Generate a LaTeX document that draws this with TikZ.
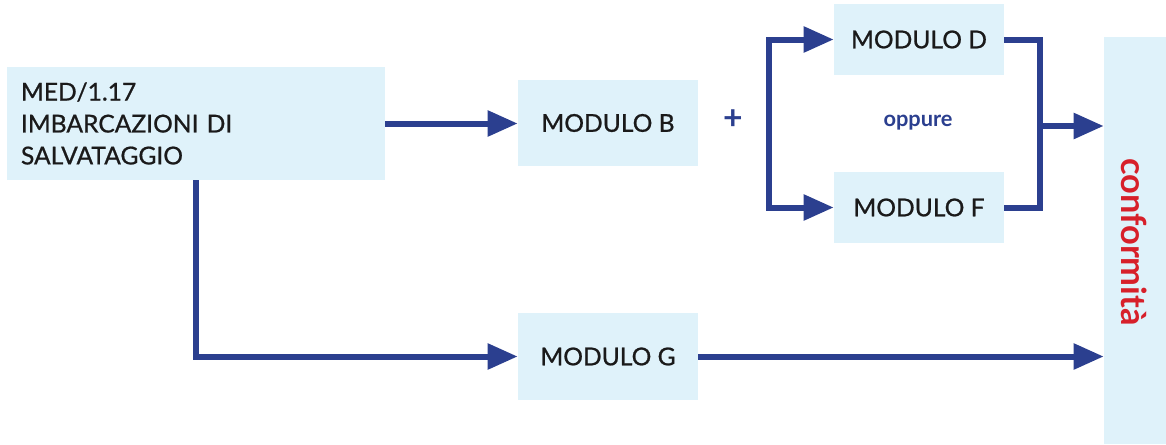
\documentclass[tikz,border=0pt]{standalone}
\usepackage{fontspec}
\setmainfont{Lato}
\newfontfamily\modfont{Lato}[FakeBold=0.8]
\usetikzlibrary{arrows.meta}
\definecolor{boxblue}{HTML}{DFF2FA}
\definecolor{arrowblue}{HTML}{2B3F8F}
\definecolor{confred}{HTML}{D7202A}
\definecolor{textdark}{HTML}{1A1A1A}

\begin{document}
\begin{tikzpicture}[
    modbox/.style={fill=boxblue,text=textdark,font=\boxfontsize,inner sep=0,minimum width=4.5cm,minimum height=2.15cm},
    flow/.style={draw=arrowblue,line width=0.15cm},
    flowarrow/.style={flow,-{Triangle[length=0.75cm,width=0.62cm]}},
    flowsplit/.style={flow,{Triangle[length=0.75cm,width=0.62cm]}-{Triangle[length=0.75cm,width=0.62cm]}}
]
    \providecommand{\boxfontsize}{\modfont\fontsize{17.5}{22.7}\selectfont}
    \providecommand{\conffontsize}{\fontsize{24.5}{27}\selectfont}
    \providecommand{\oppurefontsize}{\fontsize{15.5}{18}\selectfont}
    \providecommand{\plusfontsize}{\fontsize{24}{26}\selectfont}
    \useasboundingbox (0,0) rectangle (29.15,11.1);
    \node[modbox,minimum width=9.45cm,minimum height=2.825cm,text width=8.75cm,align=left] (med) at (4.9,8.0125) {MED/1.17\\IMBARCAZIONI DI\\SALVATAGGIO};
    \node[modbox] (modb) at (15.2,8.025) {MODULO B};
    \node[modbox,minimum width=4.25cm,minimum height=1.775cm] (modd) at (22.975,10.1125) {MODULO D};
    \node[modbox,minimum width=4.25cm,minimum height=1.775cm] (modf) at (22.975,5.9125) {MODULO F};
    \node[modbox,minimum height=2.175cm] (modg) at (15.2,2.1875) {MODULO G};
    \node[fill=boxblue,minimum width=1.55cm,minimum height=10.175cm,inner sep=0] (conf) at (28.375,5.0875) {};
    \node[rotate=-90,text=confred,font=\conffontsize\bfseries] (conftext) at (28.35,5.05) {conformità};
    \node[text=arrowblue,font=\plusfontsize\bfseries] (plus) at (18.325,8.1) {+};
    \node[text=arrowblue,font=\oppurefontsize\bfseries] (oppure) at (22.95,8.025) {oppure};
    % connectors
    \draw[flowarrow] (med.east) -- (med.east -| modb.west);
    \draw[flowarrow] (med.south) |- (modg.west);
    \draw[flowarrow] (modg.east) -- (modg.east -| conf.west);
    \coordinate (split) at (19.225,5.9125);
    \draw[flowsplit] (modd.west) -| (split) -- (modf.west);
    \coordinate (merge) at (26,7.95);
    \draw[flow] (modd.east) -| (merge |- modf.east) -- (modf.east);
    \draw[flowarrow] (merge) -- (merge -| conf.west);
\end{tikzpicture}
\end{document}
